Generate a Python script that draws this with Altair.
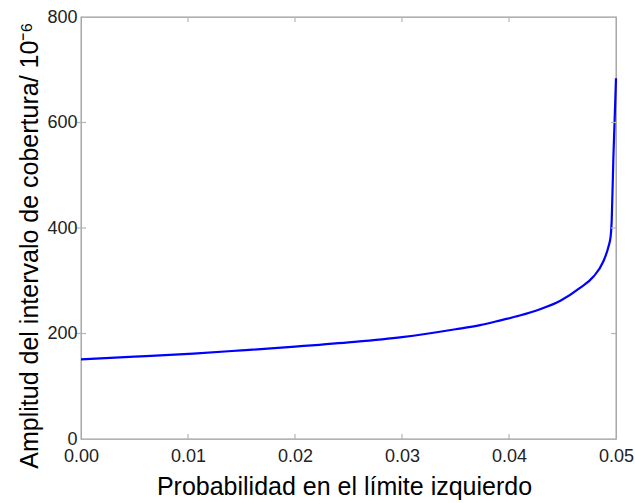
import altair as alt
import pandas as pd

# Curve values
prob = [0.0, 0.005, 0.0105, 0.015, 0.02, 0.025, 0.03, 0.035, 0.0373, 0.0392,
        0.041, 0.0429, 0.0448, 0.0466, 0.0479, 0.0488, 0.0493, 0.0495, 0.0496, 0.04975, 0.05]
amplitud = [151, 156, 162, 168, 175, 183, 193, 208, 216, 225,
            234, 246, 262, 286, 308, 336, 365, 384, 415, 530, 684]

x_ticks = [0.0, 0.01, 0.02, 0.03, 0.04, 0.05]
y_ticks = [0, 200, 400, 600, 800]

x_title = "Probabilidad en el límite izquierdo"
y_title = "Amplitud del intervalo de cobertura/ 10⁻⁶"

W, H = 535, 422
FONT = "Liberation Sans"

df = pd.DataFrame({"p": prob, "a": amplitud})
xt = pd.DataFrame({"p": x_ticks[1:-1]})
yt = pd.DataFrame({"a": y_ticks[1:-1]})

xs = alt.Scale(domain=[0, 0.05], nice=False, zero=False)
ys = alt.Scale(domain=[0, 800], nice=False)

x_axis = alt.Axis(values=x_ticks, format=".2f", ticks=False, domain=False, grid=False,
                  labelPadding=8, titlePadding=9, labelFontSize=18, titleFontSize=25,
                  titleX=263,
                  labelColor="#222", titleColor="#000", labelFont=FONT, titleFont=FONT,
                  labelFontWeight="normal", titleFontWeight="normal", labelFlush=False)
y_axis = alt.Axis(values=y_ticks, ticks=False, domain=False, grid=False,
                  labelPadding=4, titlePadding=4, labelFontSize=18, titleFontSize=25,
                  titleY=228,
                  labelColor="#222", titleColor="#000", labelFont=FONT, titleFont=FONT,
                  labelFontWeight="normal", titleFontWeight="normal", labelFlush=False)

line = alt.Chart(df).mark_line(color="#0000ff", strokeWidth=2.2, interpolate="monotone").encode(
    x=alt.X("p:Q", scale=xs, title=x_title, axis=x_axis),
    y=alt.Y("a:Q", scale=ys, title=y_title, axis=y_axis),
)

tick_color = "#b5b5b5"
bottom_ticks = alt.Chart(xt).mark_rule(color=tick_color, strokeWidth=1.2).encode(
    x=alt.X("p:Q", scale=xs, title=x_title, axis=x_axis), y=alt.value(H), y2=alt.value(H - 5))
top_ticks = alt.Chart(xt).mark_rule(color=tick_color, strokeWidth=1.2).encode(
    x=alt.X("p:Q", scale=xs, title=x_title, axis=x_axis), y=alt.value(0), y2=alt.value(5))
left_ticks = alt.Chart(yt).mark_rule(color=tick_color, strokeWidth=1.2).encode(
    y=alt.Y("a:Q", scale=ys, title=y_title, axis=y_axis), x=alt.value(-4), x2=alt.value(5))
right_ticks = alt.Chart(yt).mark_rule(color=tick_color, strokeWidth=1.2).encode(
    y=alt.Y("a:Q", scale=ys, title=y_title, axis=y_axis), x=alt.value(W), x2=alt.value(W - 5))

chart = alt.layer(line, bottom_ticks, top_ticks, left_ticks, right_ticks).properties(
    width=W, height=H,
    padding={"left": 81, "top": 17, "right": 19, "bottom": 64},
    autosize=alt.AutoSizeParams(type="none"),
    background="white",
).configure_view(stroke="#9a9a9a", strokeWidth=1.3)

chart.save("out.html", embed_options={"renderer": "svg", "actions": False})
